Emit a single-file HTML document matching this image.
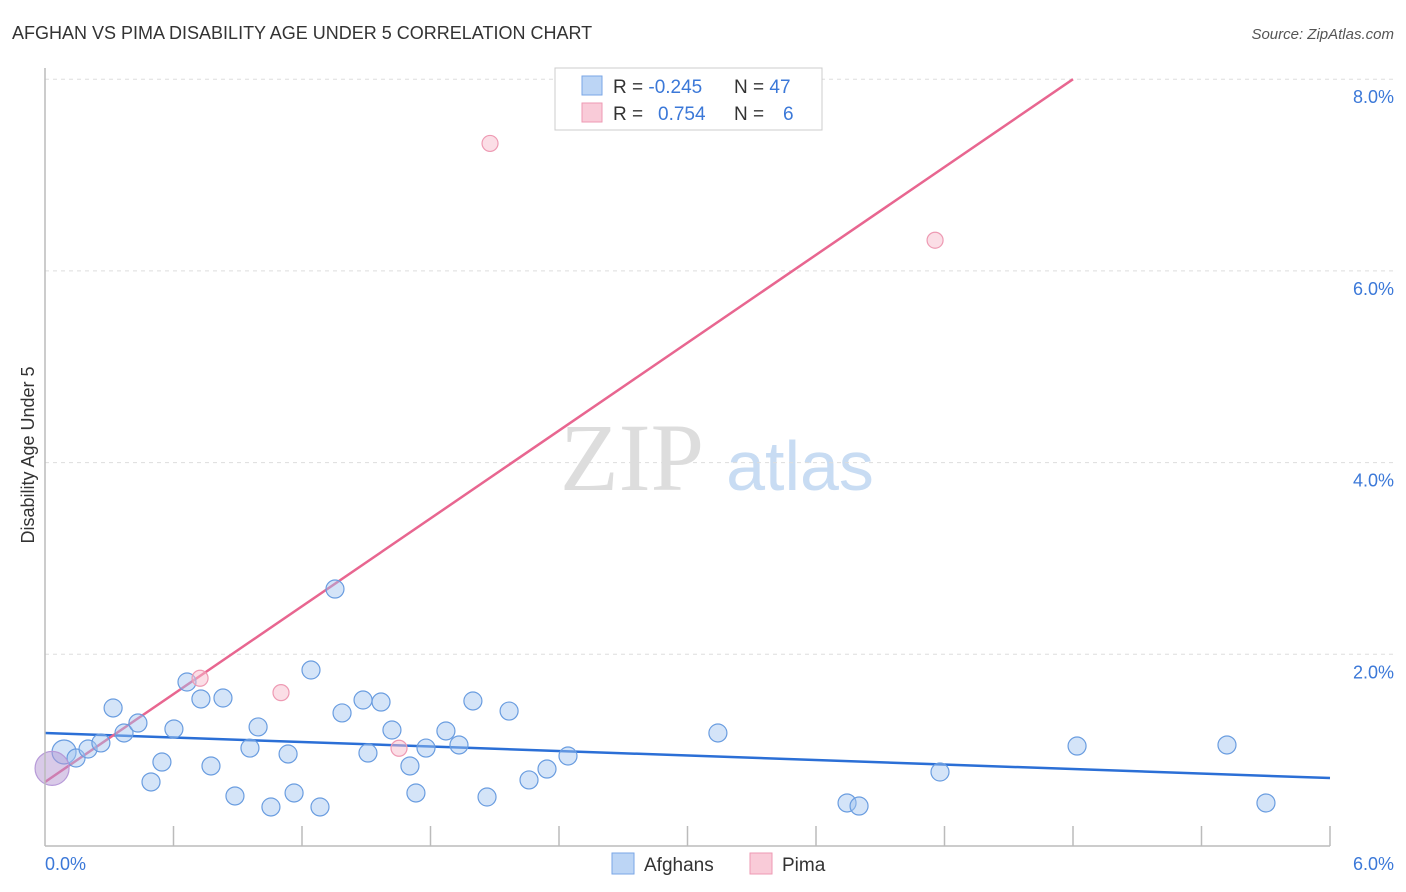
<!DOCTYPE html>
<html><head><meta charset="utf-8"><style>
body{margin:0;background:#fff;font-family:"Liberation Sans",sans-serif}
svg{display:block}
</style></head><body>
<svg id="chart" width="1406" height="892">
<text x="12" y="39" font-size="18" fill="#333">AFGHAN VS PIMA DISABILITY AGE UNDER 5 CORRELATION CHART</text>
<text x="1394" y="39" font-size="15" fill="#555" text-anchor="end" font-style="italic">Source: ZipAtlas.com</text>
<text x="632" y="490" font-size="96" fill="#ddd" font-family="Liberation Serif,serif" text-anchor="middle">ZIP</text>
<text x="800" y="490" font-size="70" fill="#c8dcf3" text-anchor="middle">atlas</text>
<text transform="translate(34,455) rotate(-90)" font-size="18" fill="#333" text-anchor="middle">Disability Age Under 5</text>
<g id="grid"></g><g id="ticks"></g><g id="lines"></g><g id="pts"></g>
<line x1="45" y1="68" x2="45" y2="846" stroke="#bbb" stroke-width="1.5"/>
<line x1="45" y1="846" x2="1330" y2="846" stroke="#bbb" stroke-width="1.5"/>
<text x="45" y="870" font-size="18" fill="#3b78d8">0.0%</text>
<text x="1394" y="870" font-size="18" fill="#3b78d8" text-anchor="end">6.0%</text>
<g>
<rect x="555" y="68" width="267" height="62" fill="#fff" stroke="#ccc"/>
<rect x="582" y="76" width="20" height="19" fill="#bcd5f5" stroke="#7aa6e6"/>
<rect x="582" y="103" width="20" height="19" fill="#f9cbd8" stroke="#ee9ab3"/>
<text x="613" y="93" font-size="19" fill="#333">R = <tspan fill="#3b78d8">-0.245</tspan><tspan x="734">N = </tspan><tspan fill="#3b78d8">47</tspan></text>
<text x="613" y="120" font-size="19" fill="#333">R = <tspan x="658" fill="#3b78d8">0.754</tspan><tspan x="734">N = </tspan><tspan x="783" fill="#3b78d8">6</tspan></text>
</g>
<g>
<rect x="612" y="853" width="22" height="21" fill="#bcd5f5" stroke="#7aa6e6"/>
<text x="644" y="871" font-size="19" fill="#333">Afghans</text>
<rect x="750" y="853" width="22" height="21" fill="#f9cbd8" stroke="#ee9ab3"/>
<text x="782" y="871" font-size="19" fill="#333">Pima</text>
</g>
</svg>
<script>
const yTicks=[2,4,6,8];
const xTickCount=10;
const afghanX=[0.089,0.145,0.201,0.261,0.318,0.369,0.434,0.495,0.546,0.602,0.663,0.728,0.775,0.831,0.887,0.957,0.995,1.055,1.135,1.163,1.242,1.284,1.354,1.387,1.485,1.508,1.569,1.620,1.704,1.732,1.779,1.872,1.933,1.998,2.064,2.167,2.260,2.344,2.442,3.142,3.745,3.801,4.179,4.819,5.519,5.701];
const afghanY=[0.981,0.918,1.012,1.075,1.440,1.179,1.283,0.668,0.876,1.221,1.711,1.534,0.835,1.544,0.522,1.022,1.242,0.407,0.960,0.553,1.836,0.407,2.681,1.388,1.523,0.970,1.502,1.210,0.835,0.553,1.022,1.200,1.054,1.513,0.511,1.408,0.689,0.803,0.939,1.179,0.449,0.417,0.772,1.043,1.054,0.449];
const afghanR=[12,9,9,9,9,9,9,9,9,9,9,9,9,9,9,9,9,9,9,9,9,9,9,9,9,9,9,9,9,9,9,9,9,9,9,9,9,9,9,9,9,9,9,9,9,9];
const pimaX=[0.033,0.724,1.102,1.653,2.078,4.156];
const pimaY=[0.81,1.75,1.60,1.02,7.33,6.32];
const pimaR=[17,8,8,8,8,8];
const afghanTrend=[1.179,0.709];
const pimaTrend=[0.668,1.5275];
const X=v=>45+v/6*1285, Y=v=>846-v*95.85;
const NS='http://www.w3.org/2000/svg';
function mk(t,a,p){const e=document.createElementNS(NS,t);for(const k in a)e.setAttribute(k,a[k]);p.appendChild(e);return e;}
const grid=document.getElementById('grid'),ticks=document.getElementById('ticks'),lines=document.getElementById('lines'),pts=document.getElementById('pts');
yTicks.forEach(v=>{
 const l=mk('line',{x1:45,x2:1394,y1:Y(v),y2:Y(v),stroke:'#ddd','stroke-dasharray':'4,4'},grid);
 
 
 const t=mk('text',{x:1394,y:Y(v)+24,'font-size':18,fill:'#3b78d8','text-anchor':'end'},grid);
 t.textContent=v.toFixed(1)+'%';
 
 
});
for(let i=1;i<=xTickCount;i++){
 const x=X(i*6/xTickCount);
 const l=mk('line',{x1:x,x2:x,y1:826,y2:846,stroke:'#bbb','stroke-width':1.5},ticks);
 
 
}
const bl=mk('line',{x1:X(0),y1:Y(afghanTrend[0]),x2:X(6),y2:Y(afghanTrend[1]),stroke:'#2b6fd6','stroke-width':2.5},lines);


const xEnd=(8-pimaTrend[0])/pimaTrend[1];
const pl=mk('line',{x1:X(0),y1:Y(pimaTrend[0]),x2:X(xEnd),y2:Y(8),stroke:'#e86690','stroke-width':2.5},lines);


afghanX.forEach((v,i)=>{
 const c=mk('circle',{cx:X(v),cy:Y(afghanY[i]),r:afghanR[i],fill:'rgba(160,196,240,0.45)',stroke:'#6a9de0','stroke-width':1.2},pts);
 
 
});
pimaX.forEach((v,i)=>{
 const c=mk('circle',{cx:X(v),cy:Y(pimaY[i]),r:pimaR[i],fill:i==0?'rgba(180,150,210,0.5)':'rgba(248,190,205,0.5)',stroke:i==0?'#b79ad8':'#ee9ab3','stroke-width':1.2},pts);
 
 
});
</script>
</body></html>
